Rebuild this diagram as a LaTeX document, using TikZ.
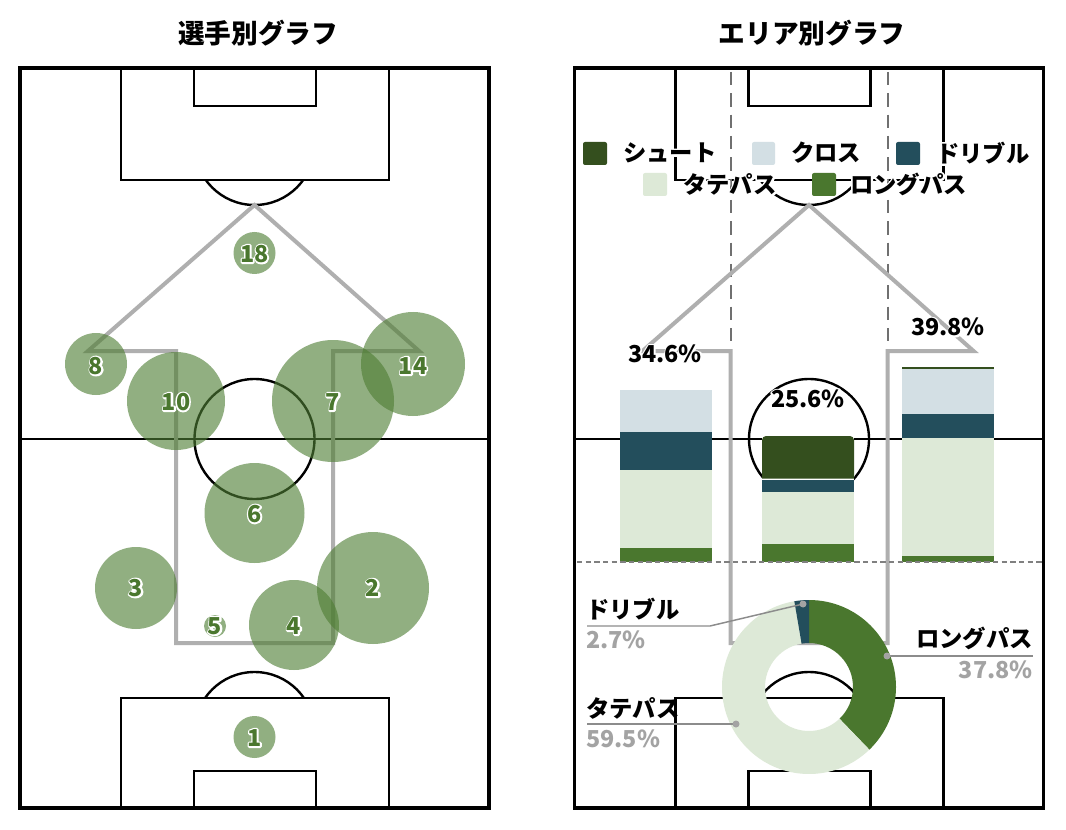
\documentclass[tikz,border=0pt]{standalone}
\usepackage{fontspec}
\setmainfont{Noto Sans CJK JP}
\newfontfamily\jp{Noto Sans CJK JP}
\definecolor{shoot}{HTML}{344F1E}
\definecolor{cross}{HTML}{D3DFE4}
\definecolor{dribble}{HTML}{234E5C}
\definecolor{tate}{HTML}{DDE9D7}
\definecolor{longp}{HTML}{4A772E}
\definecolor{bubble}{HTML}{4F7E34}
\definecolor{polyc}{HTML}{AFAFAF}
\definecolor{dashc}{HTML}{707070}
\definecolor{pctgray}{HTML}{A3A3A3}
\definecolor{callc}{HTML}{8C8C8C}
\newcommand\hlabel[5]{% style, halo width (bp), name, position, text
  \node[#1, halo=#2] (#3h) at (#4) {#5};
  \node[#1] (#3) at (#4) {#5};}
\newcommand\pitchlines{%
\draw[pline] (121,68) rectangle (389,180);
\draw[pline] (194,68) rectangle (316,106);
\draw[pline] (121,808) rectangle (389,698);
\draw[pline] (194,808) rectangle (316,771);
\draw[pline] (20,439) -- (489,439);
\draw[pline] (254.5,439) circle[radius=60];
\begin{scope}\clip (100,180) rectangle (400,260); \draw[pline] (254.5,145) circle[radius=60];\end{scope}
\begin{scope}\clip (100,698) rectangle (400,600); \draw[pline] (254.5,732) circle[radius=60];\end{scope}
\draw[oline] (20,68) rectangle (489,808);}
\newcommand\polyline{%
\draw[polyl] (88,351) -- (254.5,205) -- (419,351) -- (333,351) -- (333,643) -- (176,643) -- (176,351) -- cycle;}
\begin{document}
\begin{tikzpicture}[x=0.75pt,y=-0.75pt,
  pline/.style={draw=black, line width=1.8pt},
  oline/.style={draw=black, line width=2.3pt},
  polyl/.style={draw=polyc, line width=3pt, line join=miter},
  bub/.style={fill=bubble, fill opacity=0.62},
  halo/.style={text=white, execute at begin node={\special{pdf:literal direct 2 Tr #1 w 1 j}}},
  num/.style={font=\jp\bfseries\fontsize{17.5}{20}\selectfont, text=longp, inner sep=0pt},
  pct/.style={font=\jp\bfseries\fontsize{17.5}{20}\selectfont, text=black, inner sep=0pt},
  gpct/.style={font=\jp\bfseries\fontsize{17.5}{20}\selectfont, text=pctgray, inner sep=0pt},
  leg/.style={font=\jp\bfseries\fontsize{17.5}{20}\selectfont, text=black, inner sep=0pt},
  ttl/.style={font=\jp\bfseries\fontsize{20}{24}\selectfont, text=black, inner sep=0pt},
  lsq/.style={fill=#1, rounded corners=1.5pt},
  vdash/.style={draw=dashc, line width=1.5pt, dash pattern=on 10pt off 6pt},
  hdash/.style={draw=gray, line width=1.9pt, dash pattern=on 4pt off 2.5pt},
  callout/.style={draw=callc, line width=1.1pt},
  cdot/.style={fill=callc!80}]
\fill[white] (0,0) rectangle (1066,830);
\useasboundingbox (0,0) rectangle (1066,830);
% titles
\node[ttl] (t1) at (258,33) {選手別グラフ};
\node[ttl] (t2) at (812,33) {エリア別グラフ};
% ---------- left pitch ----------
\pitchlines
\polyline
\foreach \x/\y/\r in {254.5/253/21, 96/364/31, 413/364/52, 176/401/49, 333/401/61, 254.5/513/50, 136/588/41, 373/588/56, 294/625/45, 215/626/11, 254.5/737/21}
  \fill[bub] (\x,\y) circle[radius=\r];
\hlabel{num}{2.4}{p18}{254.5,254}{18}
\hlabel{num}{2.4}{p8}{96,366}{8}
\hlabel{num}{2.4}{p14}{413,366}{14}
\hlabel{num}{2.4}{p10}{176,402}{10}
\hlabel{num}{2.4}{p7}{333,402}{7}
\hlabel{num}{2.4}{p6}{254.5,514}{6}
\hlabel{num}{2.4}{p3}{136,588}{3}
\hlabel{num}{2.4}{p2}{373,588}{2}
\hlabel{num}{2.4}{p4}{294,626}{4}
\hlabel{num}{2.4}{p5}{215,626}{5}
\hlabel{num}{2.4}{p1}{254.5,738}{1}
% ---------- right pitch ----------
\begin{scope}[shift={(554.5,0)}]
\pitchlines
\draw[vdash] (176,72) -- (176,351);
\draw[vdash] (333,72) -- (333,351);
\polyline
\end{scope}
% bars
\fill[cross] (620,390) rectangle (712,432);
\fill[dribble] (620,432) rectangle (712,470);
\fill[tate] (620,470) rectangle (712,548);
\fill[longp] (620,548) rectangle (712,562);
\fill[white] (762,436) rectangle (854,562);
\fill[shoot] (762,478.5) {[rounded corners=3pt] -- (762,436) -- (854,436)} -- (854,478.5) -- cycle;
\fill[dribble] (762,480) rectangle (854,492);
\fill[tate] (762,492) rectangle (854,544);
\fill[longp] (762,544) rectangle (854,562);
\fill[shoot] (902,366.5) rectangle (994,369);
\fill[cross] (902,369) rectangle (994,414);
\fill[dribble] (902,414) rectangle (994,438);
\fill[tate] (902,438) rectangle (994,556);
\fill[longp] (902,556) rectangle (994,562);
\draw[hdash] (577,562) -- (1042,562);
% area percentages
\hlabel{pct}{2.4}{a1}{665,354}{34.6\%}
\hlabel{pct}{2.4}{a2}{808,399}{25.6\%}
\hlabel{pct}{2.4}{a3}{948,327}{39.8\%}
% donut
\begin{scope}[shift={(809,687)}, yscale=-1]
\fill[longp] (90:87) arc[start angle=90,end angle=-46.08,radius=87] -- (-46.08:44) arc[start angle=-46.08,end angle=90,radius=44] -- cycle;
\fill[tate] (-46.08:87) arc[start angle=-46.08,end angle=-260.28,radius=87] -- (-260.28:44) arc[start angle=-260.28,end angle=-46.08,radius=44] -- cycle;
\fill[dribble] (99.72:87) arc[start angle=99.72,end angle=90,radius=87] -- (90:44) arc[start angle=90,end angle=99.72,radius=44] -- cycle;
\end{scope}
% callouts
\coordinate (cd1) at (803,604);
\coordinate (cd2) at (887,656);
\coordinate (cd3) at (736,724);
\node[leg, anchor=west] (ldr) at (586,609) {ドリブル};
\node[gpct, anchor=west] (ldrp) at (586,640) {2.7\%};
\draw[callout] (587,626) -- (710,626) -- (cd1);
\node[leg, anchor=east] (llp) at (1033,638) {ロングパス};
\node[gpct, anchor=east] (llpp) at (1033,670) {37.8\%};
\draw[callout] (cd2) -- (1033,656);
\node[leg, anchor=west] (ltp) at (586,708) {タテパス};
\node[gpct, anchor=west] (ltpp) at (586,739) {59.5\%};
\draw[callout] (587,724) -- (cd3);
\foreach \c in {cd1,cd2,cd3} \fill[cdot] (\c) circle[radius=3.5];
% legend
\fill[lsq=shoot] (583,142) rectangle (607,165);
\fill[lsq=cross] (752,142) rectangle (775,165);
\fill[lsq=dribble] (896,142) rectangle (920,165);
\fill[lsq=tate] (643,173) rectangle (667,196);
\fill[lsq=longp] (812,173) rectangle (836,196);
\hlabel{leg, anchor=west}{3}{g1}{623,153}{シュート}
\hlabel{leg, anchor=west}{3}{g2}{791,153}{クロス}
\hlabel{leg, anchor=west}{3}{g3}{936,153}{ドリブル}
\hlabel{leg, anchor=west}{3}{g4}{683,184.5}{タテパス}
\hlabel{leg, anchor=west}{3}{g5}{850,184.5}{ロングパス}
\end{tikzpicture}
\end{document}
